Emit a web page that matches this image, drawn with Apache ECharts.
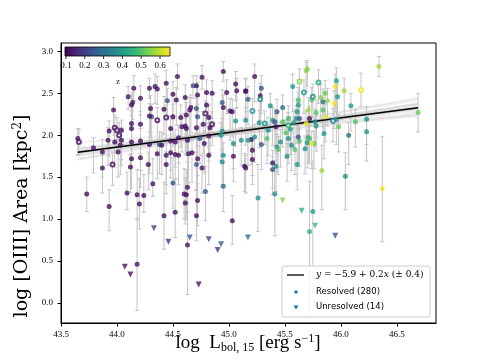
<!DOCTYPE html>
<html>
<head>
<meta charset="utf-8">
<script src="https://cdn.jsdelivr.net/npm/echarts@6/dist/echarts.min.js"></script>
<style>
  html, body { margin: 0; padding: 0; background: #fff; }
  #chart { width: 484px; height: 363px; }
</style>
</head>
<body>
<div id="chart"></div>
<script>
// [log Lbol, log area, z, err down, err up]
const resolved = [
  [44.95,2.76,0.12,0.12,0.12],[44.54,2.70,0.12,0.15,0.15],[44.76,2.69,0.12,0.14,0.14],[44.44,2.62,0.12,0.20,0.15],
  [44.15,2.56,0.12,0.15,0.15],[44.29,2.56,0.12,0.12,0.12],[44.34,2.58,0.12,0.20,0.15],[44.36,2.55,0.12,0.18,0.15],
  [44.68,2.59,0.25,0.15,0.12],[44.71,2.59,0.12,0.15,0.12],[45.06,2.61,0.12,0.20,0.15],[44.10,2.46,0.12,0.15,0.12],
  [44.21,2.44,0.12,0.20,0.15],[44.50,2.49,0.12,0.30,0.15],[44.61,2.45,0.12,0.25,0.15],[44.72,2.48,0.12,0.20,0.15],
  [44.80,2.51,0.12,0.25,0.15],[44.85,2.50,0.12,0.30,0.15],[44.98,2.51,0.12,0.25,0.15],[45.07,2.53,0.12,0.20,0.15],
  [45.15,2.53,0.12,0.25,0.15],[44.13,2.36,0.12,0.30,0.12],[44.14,2.39,0.12,0.20,0.12],[44.30,2.32,0.12,0.35,0.15],
  [44.45,2.41,0.22,0.20,0.15],[44.53,2.42,0.12,0.30,0.15],[44.66,2.33,0.12,0.30,0.15],[44.65,2.30,0.12,0.30,0.15],
  [44.71,2.32,0.25,0.30,0.15],[44.80,2.36,0.12,0.25,0.15],[44.94,2.39,0.25,0.30,0.15],[44.95,2.33,0.12,0.30,0.15],
  [45.01,2.29,0.12,0.35,0.15],[45.03,2.28,0.12,0.30,0.15],[43.97,2.30,0.12,0.30,0.15],[44.31,2.22,0.25,0.30,0.15],
  [44.29,2.23,0.12,0.30,0.15],[44.42,2.31,0.12,0.30,0.15],[44.50,2.22,0.12,0.35,0.15],[44.57,2.21,0.12,0.35,0.15],
  [44.62,2.24,0.12,0.30,0.15],[44.72,2.22,0.25,0.35,0.15],[44.82,2.21,0.12,0.35,0.15],[45.06,2.17,0.38,0.30,0.15],
  [45.15,2.18,0.38,0.30,0.15],[44.13,2.14,0.12,0.30,0.15],[44.21,2.13,0.12,0.35,0.15],[44.13,2.08,0.12,0.30,0.15],
  [43.93,2.05,0.12,0.30,0.12],[44.04,2.06,0.12,0.35,0.12],[44.48,2.08,0.12,0.35,0.15],[44.58,2.10,0.12,0.30,0.15],
  [44.61,2.11,0.12,0.35,0.15],[44.62,2.08,0.12,0.30,0.15],[44.71,2.09,0.12,0.30,0.15],[44.77,2.13,0.12,0.35,0.15],
  [44.83,2.09,0.12,0.30,0.15],[44.94,2.05,0.38,0.30,0.15],[44.93,2.00,0.38,0.30,0.15],[43.65,1.96,0.12,0.20,0.12],
  [43.79,1.85,0.12,0.30,0.12],[43.92,1.94,0.12,0.30,0.15],[43.98,1.92,0.12,0.30,0.15],[44.03,1.88,0.12,0.35,0.15],
  [44.04,1.94,0.12,0.30,0.15],[44.13,1.92,0.12,0.30,0.15],[44.21,1.93,0.12,0.35,0.15],[44.29,1.89,0.12,0.35,0.15],
  [44.38,1.89,0.25,0.35,0.15],[44.40,1.88,0.12,0.35,0.15],[44.48,1.93,0.12,0.35,0.15],[44.52,1.92,0.12,0.30,0.15],
  [44.55,1.97,0.12,0.30,0.15],[44.63,1.94,0.12,0.35,0.15],[44.74,1.96,0.25,0.30,0.15],[44.78,1.90,0.12,0.35,0.15],
  [44.82,1.99,0.12,0.30,0.15],[45.04,1.90,0.38,0.30,0.15],[45.11,1.94,0.38,0.30,0.15],[45.20,1.95,0.12,0.30,0.15],
  [43.87,1.80,0.12,0.30,0.15],[44.01,1.80,0.12,0.30,0.15],[44.13,1.72,0.12,0.35,0.15],[44.21,1.73,0.12,0.35,0.15],
  [44.36,1.78,0.12,0.30,0.15],[44.44,1.76,0.12,0.35,0.15],[44.48,1.79,0.12,0.30,0.15],[44.52,1.77,0.12,0.30,0.15],
  [44.55,1.76,0.12,0.35,0.15],[44.64,1.78,0.12,0.35,0.15],[44.67,1.79,0.12,0.35,0.15],[44.72,1.72,0.12,0.30,0.15],
  [44.82,1.76,0.12,0.35,0.15],[45.04,1.75,0.12,0.30,0.15],[44.95,1.76,0.38,0.35,0.15],[44.94,1.68,0.38,0.30,0.15],
  [43.87,1.61,0.12,0.30,0.15],[44.12,1.62,0.12,0.30,0.15],[44.28,1.65,0.12,0.30,0.15],[44.44,1.65,0.12,0.35,0.15],
  [44.71,1.65,0.25,0.30,0.15],[44.76,1.61,0.12,0.30,0.15],[45.14,1.63,0.12,0.30,0.15],
  [43.73,1.30,0.12,0.21,0.20],[43.93,1.15,0.12,0.29,0.20],[44.09,1.31,0.12,0.20,0.25],[44.18,1.29,0.12,0.30,0.30],
  [44.20,1.18,0.12,0.30,0.30],[44.24,1.28,0.12,0.20,0.25],[44.32,1.42,0.12,0.15,0.30],[44.42,1.04,0.12,0.40,0.40],
  [44.50,1.43,0.25,0.30,0.30],[44.52,1.08,0.12,0.30,0.40],[44.60,1.30,0.12,0.30,0.30],[44.62,1.29,0.12,0.30,0.30],
  [44.63,1.38,0.12,0.30,0.30],[44.61,1.19,0.12,0.25,0.30],[44.72,1.22,0.12,0.30,0.30],[44.71,1.04,0.12,0.30,0.30],
  [44.63,0.69,0.12,0.59,0.50],[44.79,1.33,0.25,0.35,0.30],[44.95,1.39,0.30,0.30,0.30],[45.03,0.98,0.12,0.28,0.30],
  [45.26,1.25,0.38,0.40,0.40],[44.18,0.46,0.12,0.55,0.55],
  [45.41,1.30,0.38,0.50,0.40],[45.75,1.09,0.40,0.90,0.60],[45.72,0.85,0.45,1.00,0.60],[46.04,1.51,0.38,0.40,0.28],
  [46.37,1.36,0.64,0.63,0.62],
  [46.34,2.82,0.58,0.12,0.12],[45.69,2.77,0.55,0.25,0.10],[45.70,2.79,0.55,0.20,0.10],[45.23,2.70,0.12,0.30,0.15],
  [45.96,2.65,0.42,0.30,0.15],[45.95,2.58,0.64,0.30,0.15],[46.03,2.53,0.57,0.30,0.15],[45.57,2.58,0.40,0.30,0.15],
  [45.29,2.56,0.25,0.30,0.15],[45.28,2.47,0.12,0.30,0.15],[45.15,2.52,0.12,0.30,0.15],[45.17,2.43,0.25,0.30,0.15],
  [45.74,2.42,0.50,0.30,0.15],[45.86,2.50,0.52,0.30,0.15],[45.82,2.45,0.55,0.30,0.15],[45.88,2.41,0.57,0.30,0.15],
  [45.84,2.40,0.30,0.30,0.15],[45.97,2.46,0.40,0.30,0.15],[45.94,2.38,0.64,0.30,0.15],[45.62,2.42,0.50,0.30,0.15],
  [45.62,2.36,0.40,0.30,0.15],[45.37,2.35,0.38,0.30,0.15],[45.48,2.33,0.30,0.30,0.15],[45.43,2.28,0.25,0.30,0.15],
  [45.61,2.28,0.40,0.30,0.15],[45.71,2.30,0.57,0.30,0.15],[45.78,2.27,0.50,0.30,0.15],[45.84,2.30,0.50,0.30,0.15],
  [46.09,2.35,0.40,0.30,0.15],[45.60,2.20,0.38,0.30,0.15],[45.27,2.15,0.38,0.30,0.15],[45.39,2.18,0.38,0.30,0.15],
  [45.41,2.16,0.25,0.30,0.15],[45.48,2.16,0.50,0.30,0.15],[45.53,2.20,0.48,0.30,0.15],[45.58,2.15,0.40,0.30,0.15],
  [45.63,2.20,0.25,0.30,0.15],[45.77,2.16,0.38,0.30,0.15],[45.86,2.22,0.64,0.30,0.15],[45.96,2.19,0.38,0.30,0.15],
  [46.23,2.19,0.38,0.30,0.15],[46.13,2.16,0.50,0.30,0.15],[46.69,2.27,0.52,0.23,0.23],[45.42,2.10,0.12,0.30,0.15],
  [45.69,2.14,0.64,0.30,0.15],[45.72,2.20,0.12,0.30,0.15],[45.78,2.11,0.38,0.30,0.15],[45.35,2.06,0.38,0.30,0.15],
  [45.51,2.03,0.50,0.30,0.15],[45.55,2.07,0.40,0.30,0.15],[45.17,1.94,0.38,0.30,0.15],[45.23,1.98,0.38,0.30,0.15],
  [45.34,1.96,0.50,0.30,0.15],[45.53,1.96,0.38,0.30,0.15],[45.46,1.92,0.38,0.30,0.15],[45.63,1.93,0.50,0.30,0.15],
  [45.71,1.97,0.38,0.30,0.15],[45.72,1.96,0.50,0.30,0.15],[45.62,1.98,0.25,0.30,0.15],[45.85,2.02,0.40,0.30,0.15],
  [45.98,2.10,0.52,0.30,0.15],[46.07,2.00,0.30,0.35,0.15],[46.23,2.04,0.38,0.35,0.15],[45.29,1.89,0.25,0.30,0.15],
  [45.56,1.88,0.38,0.30,0.15],[45.43,1.86,0.38,0.30,0.15],[45.44,1.83,0.50,0.30,0.15],[45.68,1.84,0.38,0.30,0.15],
  [45.70,1.91,0.40,0.30,0.15],[45.76,1.90,0.50,0.30,0.15],[45.74,1.90,0.64,0.30,0.15],[45.59,1.83,0.50,0.30,0.15],
  [45.21,1.82,0.12,0.30,0.15],[45.21,1.71,0.12,0.30,0.15],[45.52,1.75,0.38,0.30,0.15],[45.39,1.67,0.12,0.30,0.15],
  [45.42,1.63,0.38,0.30,0.15],[45.39,1.59,0.25,0.30,0.15],[45.61,1.65,0.38,0.30,0.15],[45.83,1.58,0.57,0.47,0.30],
  [45.15,1.61,0.12,0.30,0.15]
];
const resolvedOpen = [
  [43.66,1.92,0.12,0.15,0.15],[43.98,2.09,0.12,0.20,0.15],[44.00,2.06,0.12,0.20,0.15],[44.02,2.00,0.12,0.20,0.15],
  [43.96,1.65,0.12,0.25,0.15],[44.36,2.18,0.12,0.25,0.15],[44.44,2.21,0.12,0.25,0.15],[44.79,2.26,0.12,0.25,0.15],
  [44.85,2.13,0.12,0.25,0.15],[45.63,2.64,0.55,0.25,0.15],[45.80,2.63,0.42,0.25,0.15],[46.18,2.54,0.64,0.20,0.20],
  [45.67,2.51,0.40,0.25,0.15],[45.75,2.46,0.36,0.25,0.15],[45.28,2.43,0.36,0.25,0.15],[45.21,2.29,0.38,0.25,0.15],
  [45.32,2.14,0.38,0.25,0.15],[45.53,2.12,0.45,0.25,0.15],[45.93,2.17,0.36,0.25,0.15]
];
const unresolved = [
  [44.07,0.43,0.12],[44.12,0.34,0.12],[44.33,0.89,0.22],[44.46,0.73,0.20],[44.65,0.78,0.25],
  [44.73,0.22,0.12],[44.82,0.76,0.22],[44.90,0.63,0.20],[44.93,0.70,0.27],[45.17,0.78,0.30],
  [45.48,1.22,0.55],[45.65,1.10,0.45],[45.77,0.92,0.48],[45.95,0.80,0.24]
];
// best fit and posterior draws (pivot at 44.9)
const fitIntercept = -5.82, fitSlope = 0.1745;
const fitRange = [43.65, 46.69];
const fitPivot = 44.9;
const drawSlopes = [0.11, 0.13, 0.14, 0.15, 0.16, 0.165, 0.17, 0.175, 0.18, 0.185, 0.19, 0.20, 0.21, 0.22, 0.24];
const drawShifts = [0.03, -0.02, 0.01, -0.03, 0.02, 0, -0.01, 0.01, 0, -0.02, 0.02, -0.01, 0.03, -0.03, 0];
const xTicks = [43.5, 44.0, 44.5, 45.0, 45.5, 46.0, 46.5];
const yTicks = [0.0, 0.5, 1.0, 1.5, 2.0, 2.5, 3.0];
const zTicks = [0.1, 0.2, 0.3, 0.4, 0.5, 0.6];
const zRange = [0.095, 0.653];

const viridis = ['#440154','#482878','#3e4989','#31688e','#26828e','#1f9e89','#35b779','#6ece58','#b5de2b','#fde725'];
const SERIF = '"DejaVu Serif", "Liberation Serif", serif';
const TICKFONT = '"Liberation Serif", serif';

const chart = echarts.init(document.getElementById('chart'), null, { renderer: 'canvas' });

const fitY = x => fitIntercept + fitSlope * x;
const drawSeries = drawSlopes.map((s, i) => {
  const y0 = fitY(fitPivot) + drawShifts[i];
  return {
    type: 'line', silent: true, symbol: 'none', z: 1,
    lineStyle: { color: '#555', width: 2, opacity: 0.09 },
    data: fitRange.map(x => [x, y0 + s * (x - fitPivot)])
  };
});

const errorBars = {
  type: 'custom', z: 2, silent: true, clip: true,
  renderItem: (params, api) => {
    const x = api.value(0), y = api.value(1);
    const lo = api.coord([x, y - api.value(3)]);
    const hi = api.coord([x, y + api.value(4)]);
    const st = { stroke: '#c4c4c4', lineWidth: 1 };
    return { type: 'group', children: [
      { type: 'line', shape: { x1: lo[0], y1: lo[1], x2: hi[0], y2: hi[1] }, style: st },
      { type: 'line', shape: { x1: lo[0] - 2, y1: lo[1], x2: lo[0] + 2, y2: lo[1] }, style: st },
      { type: 'line', shape: { x1: hi[0] - 2, y1: hi[1], x2: hi[0] + 2, y2: hi[1] }, style: st }
    ]};
  },
  data: resolved.concat(resolvedOpen)
};

// colorbar geometry
const cb = { x: 65, y: 47, w: 105, h: 9 };
const cbX = v => cb.x + (v - zRange[0]) / (zRange[1] - zRange[0]) * cb.w;
const cbGraphics = [
  { type: 'rect', shape: { x: cb.x, y: cb.y, width: cb.w, height: cb.h }, z: 100,
    style: { fill: new echarts.graphic.LinearGradient(0, 0, 1, 0,
      viridis.map((c, i) => ({ offset: i / (viridis.length - 1), color: c }))),
      stroke: '#000', lineWidth: 0.8 } },
  { type: 'text', x: 118, y: 82, z: 100, style: { text: 'z', font: '9px ' + TICKFONT, fill: '#222', align: 'center', verticalAlign: 'middle' } }
];
zTicks.forEach(v => {
  cbGraphics.push({ type: 'line', z: 100, shape: { x1: cbX(v), y1: cb.y + cb.h, x2: cbX(v), y2: cb.y + cb.h + 3 }, style: { stroke: '#000', lineWidth: 0.8 } });
  cbGraphics.push({ type: 'text', z: 100, x: cbX(v), y: cb.y + cb.h + 5, style: { text: v.toFixed(1), font: '9px ' + TICKFONT, fill: '#000', align: 'center', verticalAlign: 'top' } });
});

// legend box
const lg = { x: 282, y: 266, w: 148, h: 51 };
const legendGraphics = [
  { type: 'rect', z: 100, shape: { x: lg.x, y: lg.y, width: lg.w, height: lg.h, r: 2 }, style: { fill: 'rgba(255,255,255,0.85)', stroke: '#cccccc', lineWidth: 1 } },
  { type: 'line', z: 101, shape: { x1: 287, y1: 275, x2: 304, y2: 275 }, style: { stroke: '#000', lineWidth: 1.3 } },
  { type: 'text', z: 101, x: 316, y: 275, style: {
      text: '{i|y} = −5.9 + 0.2{i|x} (± 0.4)', font: '9px ' + SERIF, fill: '#000', verticalAlign: 'middle',
      rich: { i: { fontStyle: 'italic', fontFamily: SERIF, fontSize: 9 } } } },
  { type: 'circle', z: 101, shape: { cx: 296, cy: 292, r: 1.8 }, style: { fill: '#1f77b4' } },
  { type: 'text', z: 101, x: 316, y: 292, style: { text: 'Resolved (280)', font: '8.5px "DejaVu Sans", sans-serif', fill: '#000', verticalAlign: 'middle' } },
  { type: 'polygon', z: 101, shape: { points: [[293.5, 305.5], [298.5, 305.5], [296, 309.5]] }, style: { fill: '#1f77b4' } },
  { type: 'text', z: 101, x: 316, y: 307, style: { text: 'Unresolved (14)', font: '8.5px "DejaVu Sans", sans-serif', fill: '#000', verticalAlign: 'middle' } }
];

const titleGraphics = [
  { type: 'text', x: 22, y: 216, rotation: Math.PI / 2, z: 100, style: {
      text: 'log [OIII] Area [kpc{s|2}]', font: '19px ' + SERIF, fill: '#000', align: 'center', verticalAlign: 'middle',
      rich: { s: { fontSize: 12, fontFamily: SERIF, verticalAlign: 'top', padding: [0, 0, 9, 0] } } } },
  { type: 'text', x: 248, y: 343, z: 100, style: {
      text: 'log  L{b|bol, 15} [erg s{s|−1}]', font: '19px ' + TICKFONT, fill: '#000', align: 'center', verticalAlign: 'middle',
      rich: { b: { fontSize: 12, fontFamily: TICKFONT, padding: [9, 0, 0, 0] }, s: { fontSize: 12, fontFamily: TICKFONT, padding: [0, 0, 9, 0] } } } }
];

const option = {
  animation: false,
  backgroundColor: '#fff',
  grid: { left: 61, right: 48, top: 43, bottom: 40, show: true, borderColor: '#000', borderWidth: 1, backgroundColor: 'transparent' },
  xAxis: {
    type: 'value', min: 43.5, max: 46.85,
    axisLine: { show: true, onZero: false, lineStyle: { color: '#000' } },
    axisTick: { show: true, length: 3.5, customValues: xTicks, lineStyle: { color: '#000' } },
    axisLabel: { customValues: xTicks, margin: 7, color: '#000', fontFamily: TICKFONT, fontSize: 9, formatter: v => v.toFixed(1) },
    splitLine: { show: false }
  },
  yAxis: {
    type: 'value', min: -0.24, max: 3.1,
    axisLine: { show: true, onZero: false, lineStyle: { color: '#000' } },
    axisTick: { show: true, length: 3.5, customValues: yTicks, lineStyle: { color: '#000' } },
    axisLabel: { customValues: yTicks, margin: 8, color: '#000', fontFamily: TICKFONT, fontSize: 9, formatter: v => v.toFixed(1) },
    splitLine: { show: false }
  },
  visualMap: {
    show: false, type: 'continuous', dimension: 2, min: zRange[0], max: zRange[1],
    seriesIndex: [drawSeries.length + 2, drawSeries.length + 3, drawSeries.length + 4],
    inRange: { color: viridis }
  },
  series: [
    ...drawSeries,
    { type: 'line', silent: true, symbol: 'none', z: 3, lineStyle: { color: '#000', width: 1.3 },
      data: fitRange.map(x => [x, fitY(x)]) },
    errorBars,
    { type: 'scatter', z: 4, symbol: 'circle', symbolSize: 5, data: resolved.map(d => [d[0], d[1], d[2]]) },
    { type: 'scatter', z: 4, symbol: 'emptyCircle', symbolSize: 4, itemStyle: { borderWidth: 0.6 }, data: resolvedOpen.map(d => [d[0], d[1], d[2]]) },
    { type: 'scatter', z: 4, symbol: 'triangle', symbolRotate: 180, symbolSize: 6, data: unresolved }
  ],
  graphic: [...cbGraphics, ...legendGraphics, ...titleGraphics]
};
chart.setOption(option);
</script>
</body>
</html>
